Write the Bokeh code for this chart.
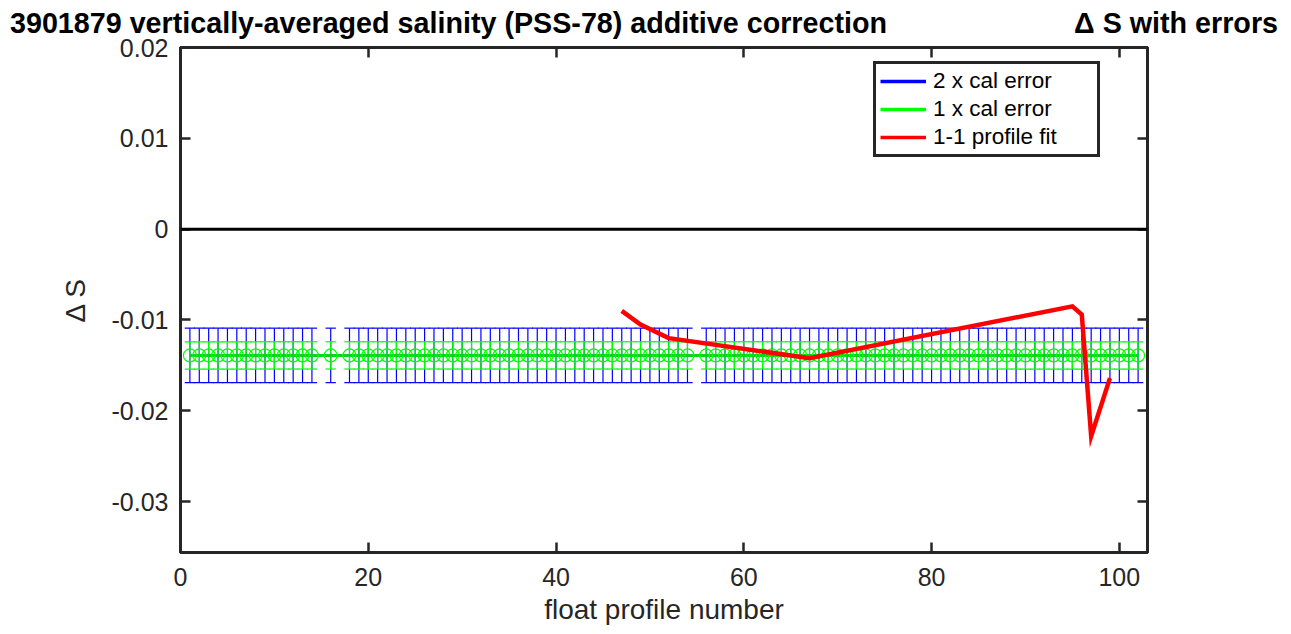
import numpy as np
from bokeh.plotting import figure
from bokeh.layouts import column
from bokeh.models import (Range1d, FixedTicker, CustomJSTickFormatter, LinearAxis,
                          Legend, LegendItem, Span, Div)
from bokeh.embed import file_html
from bokeh.resources import INLINE

# ---------------- data ----------------
missing_profiles = [15, 17, 55]
profiles = [i for i in range(1, 103) if i not in missing_profiles]
cal_offset = -0.0139      # vertically-averaged additive correction
cal_error = 0.0015        # 1 x calibration error

fit_profiles = [47, 49, 52, 67, 95, 96, 97, 99]
fit_values = [-0.0090, -0.0105, -0.0120, -0.0142, -0.0085, -0.0094, -0.0228, -0.0164]

x_ticks = [0, 20, 40, 60, 80, 100]
y_ticks = [-0.03, -0.02, -0.01, 0.0, 0.01, 0.02]

title_left = "3901879 vertically-averaged salinity (PSS-78) additive correction"
title_right = "\u0394 S with errors"
x_label = "float profile number"
y_label = "\u0394 S"
legend_labels = ["2 x cal error", "1 x cal error", "1-1 profile fit"]

# ---------------- styles ----------------
FONT = "Liberation Sans"
AX = "#262626"
BLUE = "#0000ff"
GREEN = "#00ff00"
RED = "#ff0000"

px = np.array(profiles, dtype=float)
mean = np.full(px.shape, cal_offset)

DIV_H = 33
p = figure(width=1283, height=601, output_backend="svg", toolbar_location=None,
           x_range=Range1d(0, 103), y_range=Range1d(-0.0356, 0.02),
           min_border_left=180, min_border_top=14, min_border_right=136,
           min_border_bottom=82, margin=0)
p.background_fill_color = "white"
p.border_fill_color = None
p.grid.visible = False
p.outline_line_color = AX
p.outline_line_width = 3
p.outline_line_alpha = 1

fmt = CustomJSTickFormatter(code="var v = Math.round(tick*1000)/1000; return v.toString();")
blank = CustomJSTickFormatter(code="return '';")

for ax in (p.xaxis[0], p.yaxis[0]):
    ax.axis_line_color = AX
    ax.axis_line_width = 3
    ax.major_tick_line_color = AX
    ax.major_tick_line_width = 2.5
    ax.major_tick_in = 10
    ax.major_tick_out = 0
    ax.minor_tick_line_color = None
    ax.major_label_text_font = FONT
    ax.major_label_text_font_size = "25px"
    ax.major_label_text_color = AX
    ax.axis_label_text_font = FONT
    ax.axis_label_text_font_size = "28px"
    ax.axis_label_text_font_style = "normal"
    ax.axis_label_text_color = AX
    ax.formatter = fmt

p.xaxis[0].ticker = FixedTicker(ticks=x_ticks)
p.yaxis[0].ticker = FixedTicker(ticks=y_ticks)
p.xaxis[0].axis_label = x_label
p.yaxis[0].axis_label = y_label
p.xaxis[0].major_label_standoff = 15
p.xaxis[0].axis_label_standoff = 5
p.yaxis[0].major_label_standoff = 12
p.yaxis[0].axis_label_standoff = 18

top_ax = LinearAxis(ticker=FixedTicker(ticks=x_ticks), formatter=blank)
right_ax = LinearAxis(ticker=FixedTicker(ticks=y_ticks), formatter=blank)
for ax in (top_ax, right_ax):
    ax.axis_line_color = AX
    ax.axis_line_width = 3
    ax.major_tick_line_color = AX
    ax.major_tick_line_width = 2.5
    ax.major_tick_in = 10
    ax.major_tick_out = 0
    ax.minor_tick_line_color = None
    ax.major_label_text_font_size = "1px"
    ax.major_label_standoff = 0
p.add_layout(top_ax, "above")
p.add_layout(right_ax, "right")

# zero line
p.add_layout(Span(location=0, dimension="width", line_color="black", line_width=3))

# 2 x cal error (blue)
cap = 0.55
p.segment(x0=px, y0=mean - 2 * cal_error, x1=px, y1=mean + 2 * cal_error,
          line_color=BLUE, line_width=1.2)
p.segment(x0=px - cap, y0=mean + 2 * cal_error, x1=px + cap, y1=mean + 2 * cal_error,
          line_color=BLUE, line_width=1.2)
p.segment(x0=px - cap, y0=mean - 2 * cal_error, x1=px + cap, y1=mean - 2 * cal_error,
          line_color=BLUE, line_width=1.2)

# 1 x cal error (green)
p.segment(x0=px, y0=mean - cal_error, x1=px, y1=mean + cal_error,
          line_color=GREEN, line_width=1.2)
p.segment(x0=px - cap, y0=mean + cal_error, x1=px + cap, y1=mean + cal_error,
          line_color=GREEN, line_width=1.2)
p.segment(x0=px - cap, y0=mean - cal_error, x1=px + cap, y1=mean - cal_error,
          line_color=GREEN, line_width=1.2)
p.line(px, mean, line_color="#10d020", line_width=3)
p.scatter(px, mean, marker="circle", size=13, fill_color=None,
          line_color=GREEN, line_width=1.2)

# 1-1 profile fit (red)
p.line(fit_profiles, fit_values, line_color=RED, line_width=4.5, line_join="miter")

# legend (sample glyphs)
lb = p.line([np.nan], [np.nan], line_color=BLUE, line_width=3.5)
lg = p.line([np.nan], [np.nan], line_color=GREEN, line_width=3.5)
lr = p.line([np.nan], [np.nan], line_color=RED, line_width=3.5)
legend = Legend(items=[LegendItem(label=legend_labels[0], renderers=[lb]),
                       LegendItem(label=legend_labels[1], renderers=[lg]),
                       LegendItem(label=legend_labels[2], renderers=[lr])],
                location=(693, 395), orientation="vertical",
                border_line_color=AX, border_line_width=3, border_line_alpha=1,
                background_fill_color="white", background_fill_alpha=1,
                label_text_font=FONT, label_text_font_size="22.5px",
                label_text_color="black", glyph_width=46, glyph_height=22,
                label_height=22, label_standoff=7, spacing=2, padding=4,
                margin=0, label_width=160)
p.add_layout(legend, "center")

# titles (left and right, above the axes)
html = (
    "<div style=\"position:relative;width:1283px;height:%dpx;overflow:visible;"
    "font-family:'Liberation Sans',Arial,sans-serif;font-weight:bold;"
    "font-size:28.7px;line-height:29px;color:#000;white-space:nowrap;\">"
    "<span style=\"position:absolute;left:10px;top:9px;\">%s</span>"
    "<span style=\"position:absolute;right:5px;top:9px;\">%s</span>"
    "</div>"
) % (DIV_H, title_left, title_right)
title_div = Div(text=html, width=1283, height=DIV_H, margin=0,
                styles={"overflow": "visible"})

layout = column(title_div, p, spacing=0)
open("out.html", "w").write(file_html(layout, INLINE))
